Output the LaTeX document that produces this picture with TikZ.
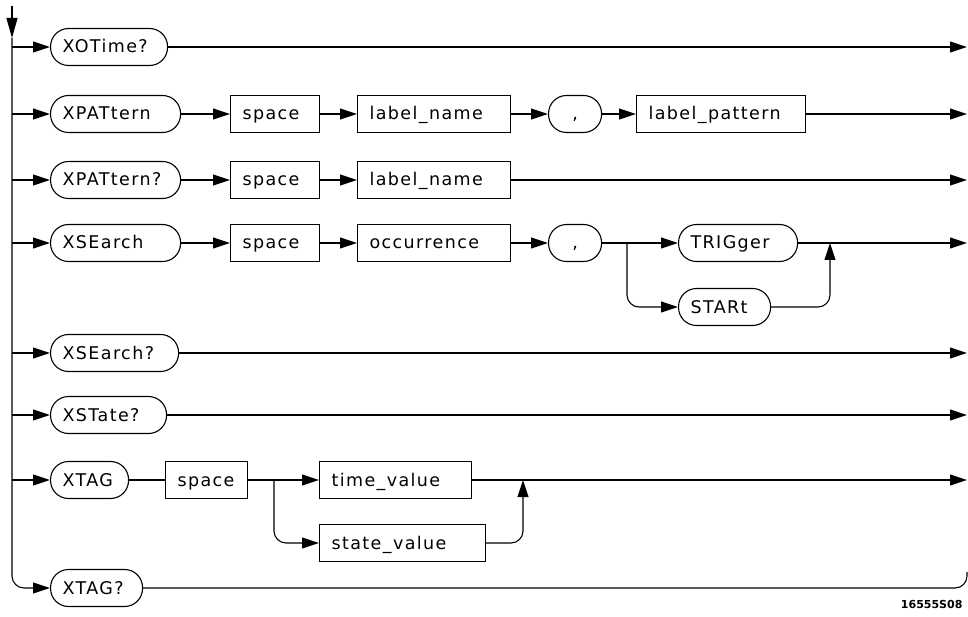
\documentclass[tikz,border=0pt]{standalone}
\usepackage{fontspec}
\newfontfamily\hpfont[LetterSpace=8]{DejaVu Sans}
\newfontfamily\hpnum{DejaVu Sans}
\usetikzlibrary{arrows.meta}
\begin{document}
\begin{tikzpicture}[x=1pt,y=-1pt, line width=1.1pt,
  arr/.style={-{Triangle[length=17pt,width=11pt]}},
  base/.style={draw, minimum height=37pt, inner xsep=12pt, inner ysep=0pt, align=left, anchor=west,
    text height=15pt, text depth=3pt,
    font=\hpfont\fontsize{17.5}{20}\selectfont},
  rr/.style={base, rounded corners=18pt, text width=#1},
  sq/.style={base, text width=#1}]
\useasboundingbox (0,0) rectangle (968,617);
% nodes
\node[rr=93pt] (n1) at (50,47) {XOTime?};
\node[rr=106pt] (n2) at (50,114) {XPATtern};
\node[sq=65pt] (s2) at (230,114) {space};
\node[sq=129pt] (l2) at (357,114) {label\_name};
\node[rr=29pt, align=center] (c2) at (548,114) {,};
\node[sq=145pt] (p2) at (636,114) {label\_pattern};
\node[rr=106pt] (n3) at (50,180) {XPATtern?};
\node[sq=65pt] (s3) at (230,180) {space};
\node[sq=129pt] (l3) at (357,180) {label\_name};
\node[rr=106pt] (n4) at (50,243) {XSEarch};
\node[sq=65pt] (s4) at (230,243) {space};
\node[sq=129pt] (o4) at (357,243) {occurrence};
\node[rr=29pt, align=center] (c4) at (548,243) {,};
\node[rr=95pt] (t4) at (678,243) {TRIGger};
\node[rr=68pt] (st4) at (678,307) {STARt};
\node[rr=104pt] (n5) at (50,353) {XSEarch?};
\node[rr=92pt] (n6) at (50,415) {XSTate?};
\node[rr=54pt] (n7) at (50,480) {XTAG};
\node[sq=58pt] (s7) at (165,480) {space};
\node[sq=128pt] (tv) at (319,480) {time\_value};
\node[sq=142pt] (sv) at (319,543) {state\_value};
\node[rr=68pt] (n8) at (50,588) {XTAG?};
\node[font=\hpnum\bfseries\fontsize{11}{13}\selectfont, anchor=east, inner sep=0pt] (fig) at (963,604) {16555S08};
% coordinates
\coordinate (top) at (12,6);
\coordinate (rt) at (12,38);
\coordinate (r1) at (12,47);
\coordinate (r2) at (12,114);
\coordinate (r3) at (12,180);
\coordinate (r4) at (12,243);
\coordinate (r5) at (12,353);
\coordinate (r6) at (12,415);
\coordinate (r7) at (12,480);
\coordinate (e1) at (967,47);
\coordinate (e2) at (967,114);
\coordinate (e3) at (967,180);
\coordinate (e4) at (967,243);
\coordinate (e5) at (967,353);
\coordinate (e6) at (967,415);
\coordinate (e7) at (967,480);
\coordinate (e8) at (967,572);
\coordinate (b4) at (627,243);
\coordinate (m4) at (830,243);
\coordinate (b7) at (274,480);
\coordinate (m7) at (523,480);
% rail
\draw[-{Triangle[length=20pt,width=11pt]}] (top) -- (rt);
\draw[arr, rounded corners=12pt] (rt) |- (n8.west);
\foreach \i in {1,...,7} { \draw[arr] (r\i) -- (n\i); }
% row 1
\draw[arr] (n1) -- (e1);
% row 2
\draw[arr] (n2) -- (s2);
\draw[arr] (s2) -- (l2);
\draw[arr] (l2) -- (c2);
\draw[arr] (c2) -- (p2);
\draw[arr] (p2) -- (e2);
% row 3
\draw[arr] (n3) -- (s3);
\draw[arr] (s3) -- (l3);
\draw[arr] (l3) -- (e3);
% row 4
\draw[arr] (n4) -- (s4);
\draw[arr] (s4) -- (o4);
\draw[arr] (o4) -- (c4);
\draw[arr] (c4) -- (t4);
\draw[arr, rounded corners=12pt] (b4) |- (st4.west);
\draw[arr, rounded corners=12pt] (st4.east) -| (m4);
\draw[arr] (t4) -- (e4);
% rows 5,6
\draw[arr] (n5) -- (e5);
\draw[arr] (n6) -- (e6);
% row 7
\draw (n7) -- (s7);
\draw[arr] (s7) -- (tv);
\draw[arr, rounded corners=12pt] (b7) |- (sv.west);
\draw[arr, rounded corners=12pt] (sv.east) -| (m7);
\draw[arr] (tv) -- (e7);
% row 8
\draw[rounded corners=12pt] (n8.east) -| (e8);
\end{tikzpicture}
\end{document}
